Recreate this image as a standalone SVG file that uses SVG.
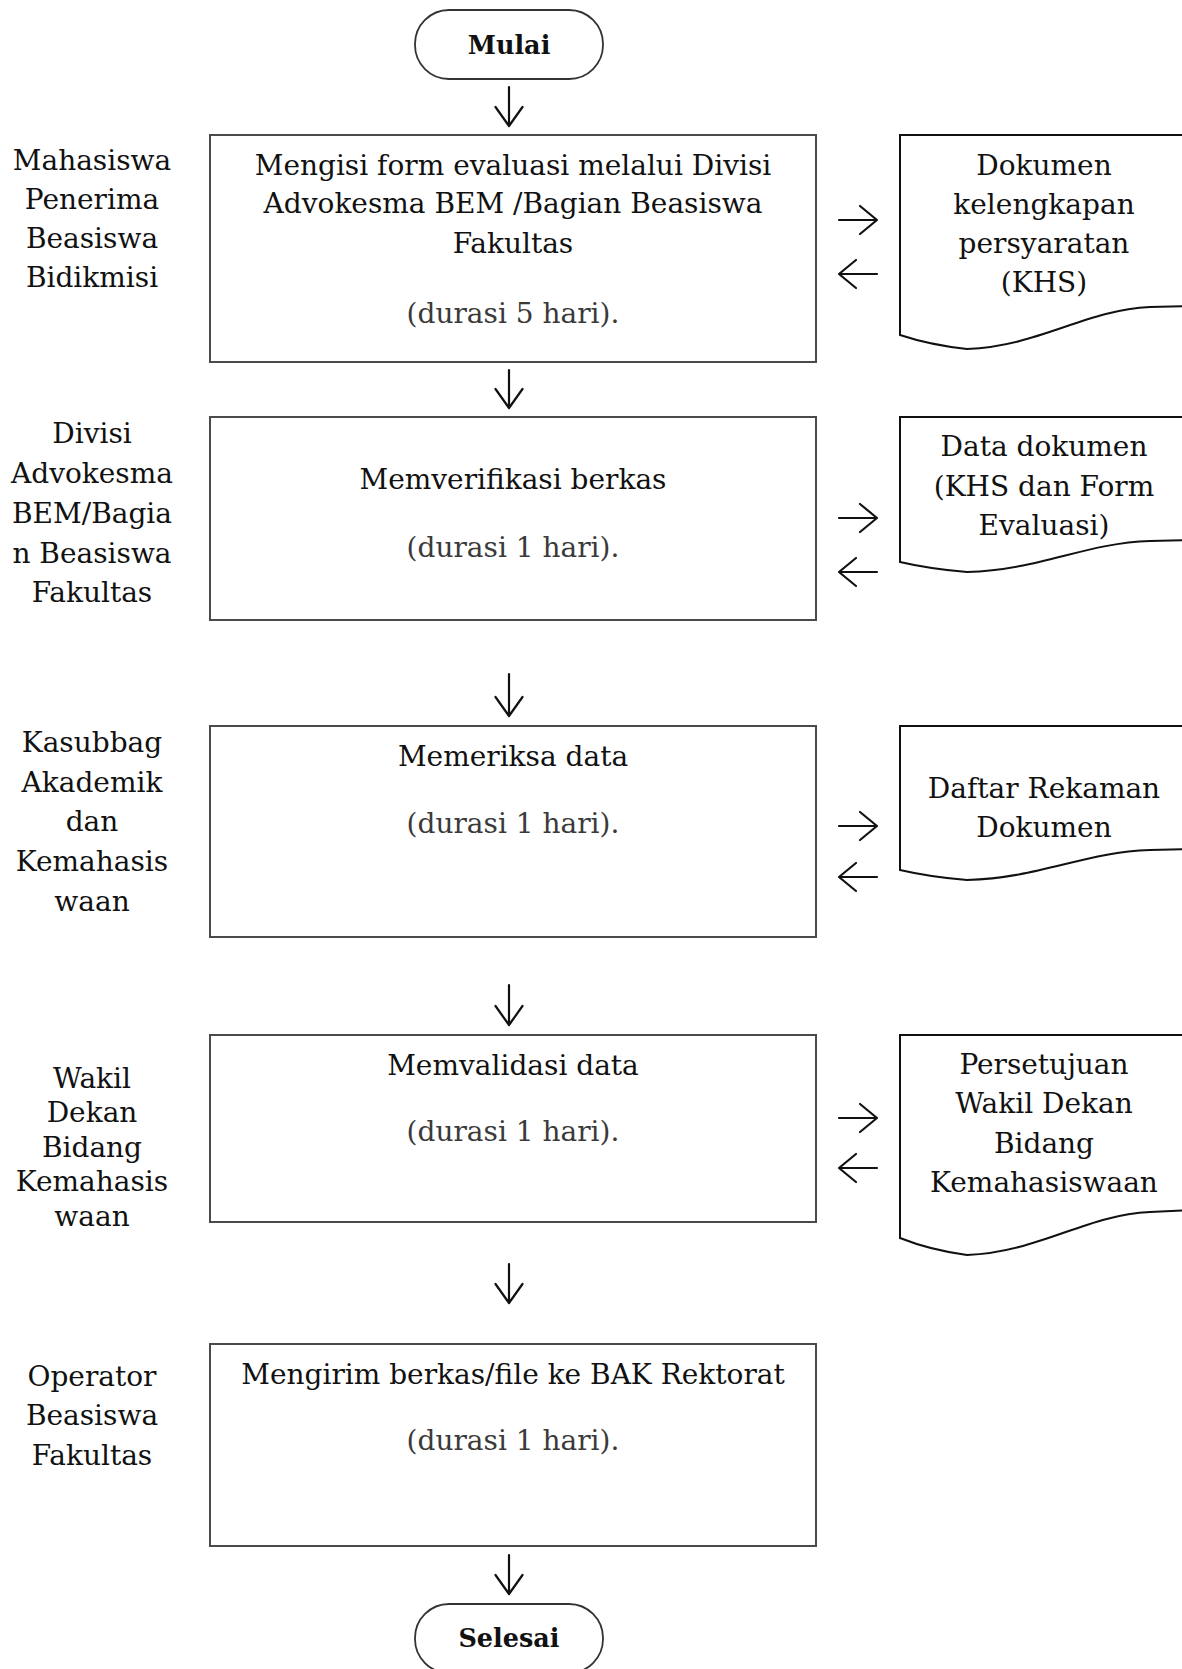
<svg xmlns="http://www.w3.org/2000/svg" width="1182" height="1669" viewBox="0 0 1182 1669">
<style>
.t{font-family:"DejaVu Serif","Liberation Serif",serif;font-size:28px;fill:#111;text-anchor:middle}
.d{fill:#3a3a3a}
.b{font-weight:bold;font-size:25.5px}
.box{fill:#fff;stroke:#4a4a4a;stroke-width:2}
.term{fill:#fff;stroke:#333;stroke-width:1.8}
.doc{fill:#fff;stroke:#111;stroke-width:2}
.arr{fill:none;stroke:#111;stroke-width:2.2;stroke-linecap:round;stroke-linejoin:round}
</style>
<rect width="1182" height="1669" fill="#fff"/>

<g id="lane1">
<text class="t" x="92" y="170">Mahasiswa</text>
<text class="t" x="92" y="209">Penerima</text>
<text class="t" x="92" y="248">Beasiswa</text>
<text class="t" x="92" y="287">Bidikmisi</text>
</g>
<g id="lane2">
<text class="t" x="92" y="443">Divisi</text>
<text class="t" x="92" y="483">Advokesma</text>
<text class="t" x="92" y="523">BEM/Bagia</text>
<text class="t" x="92" y="563">n Beasiswa</text>
<text class="t" x="92" y="602">Fakultas</text>
</g>
<g id="lane3">
<text class="t" x="92" y="752">Kasubbag</text>
<text class="t" x="92" y="792">Akademik</text>
<text class="t" x="92" y="831">dan</text>
<text class="t" x="92" y="871">Kemahasis</text>
<text class="t" x="92" y="911">waan</text>
</g>
<g id="lane4">
<text class="t" x="92" y="1088">Wakil</text>
<text class="t" x="92" y="1122">Dekan</text>
<text class="t" x="92" y="1157">Bidang</text>
<text class="t" x="92" y="1191">Kemahasis</text>
<text class="t" x="92" y="1226">waan</text>
</g>
<g id="lane5">
<text class="t" x="92" y="1386">Operator</text>
<text class="t" x="92" y="1425">Beasiswa</text>
<text class="t" x="92" y="1465">Fakultas</text>
</g>

<g id="start">
<rect class="term" x="415" y="10" width="188" height="69" rx="34" ry="34"/>
<text class="t b" x="509" y="54">Mulai</text>
</g>

<g id="step1">
<rect class="box" x="210" y="135" width="606" height="227"/>
<text class="t" x="513" y="175">Mengisi form evaluasi melalui Divisi</text>
<text class="t" x="513" y="213">Advokesma BEM /Bagian Beasiswa</text>
<text class="t" x="513" y="253">Fakultas</text>
<text class="t d" x="513" y="323">(durasi 5 hari).</text>
</g>

<g id="step2">
<rect class="box" x="210" y="417" width="606" height="203"/>
<text class="t" x="513" y="489">Memverifikasi berkas</text>
<text class="t d" x="513" y="557">(durasi 1 hari).</text>
</g>

<g id="step3">
<rect class="box" x="210" y="726" width="606" height="211"/>
<text class="t" x="513" y="766">Memeriksa data</text>
<text class="t d" x="513" y="833">(durasi 1 hari).</text>
</g>

<g id="step4">
<rect class="box" x="210" y="1035" width="606" height="187"/>
<text class="t" x="513" y="1075">Memvalidasi data</text>
<text class="t d" x="513" y="1141">(durasi 1 hari).</text>
</g>

<g id="step5">
<rect class="box" x="210" y="1344" width="606" height="202"/>
<text class="t" x="513" y="1384">Mengirim berkas/file ke BAK Rektorat</text>
<text class="t d" x="513" y="1450">(durasi 1 hari).</text>
</g>

<g id="end">
<rect class="term" x="415" y="1604" width="188" height="69" rx="34" ry="34"/>
<text class="t b" x="509" y="1647">Selesai</text>
</g>

<g id="doc1">
<path class="doc" d="M1190,135 L900,135 L900,335 Q930,345 967,349 C1040,346 1085,310 1150,307 L1190,306"/>
<text class="t" x="1044" y="175">Dokumen</text>
<text class="t" x="1044" y="214">kelengkapan</text>
<text class="t" x="1044" y="253">persyaratan</text>
<text class="t" x="1044" y="292">(KHS)</text>
</g>

<g id="doc2">
<path class="doc" d="M1190,417 L900,417 L900,562 Q930,569 967,572 C1040,570 1085,543 1150,541 L1190,540"/>
<text class="t" x="1044" y="456">Data dokumen</text>
<text class="t" x="1044" y="496">(KHS dan Form</text>
<text class="t" x="1044" y="535">Evaluasi)</text>
</g>

<g id="doc3">
<path class="doc" d="M1190,726 L900,726 L900,870 Q930,877 967,880 C1040,878 1085,852 1150,850 L1190,849"/>
<text class="t" x="1044" y="798">Daftar Rekaman</text>
<text class="t" x="1044" y="837">Dokumen</text>
</g>

<g id="doc4">
<path class="doc" d="M1190,1035 L900,1035 L900,1238 Q930,1250 967,1255 C1040,1252 1085,1215 1150,1212 L1190,1210"/>
<text class="t" x="1044" y="1074">Persetujuan</text>
<text class="t" x="1044" y="1113">Wakil Dekan</text>
<text class="t" x="1044" y="1153">Bidang</text>
<text class="t" x="1044" y="1192">Kemahasiswaan</text>
</g>

<g id="connectors">
<path class="arr" d="M509,87 V126 M495.5,107 L509,126 L522.5,107"/>
<path class="arr" d="M509,370 V408 M495.5,389 L509,408 L522.5,389"/>
<path class="arr" d="M509,674 V716 M495.5,697 L509,716 L522.5,697"/>
<path class="arr" d="M509,985 V1025 M495.5,1006 L509,1025 L522.5,1006"/>
<path class="arr" d="M509,1264 V1303 M495.5,1284 L509,1303 L522.5,1284"/>
<path class="arr" d="M509,1555 V1594 M495.5,1575 L509,1594 L522.5,1575"/>

<path class="arr" d="M839,220 H877 M860,206 L877,220 L860,234"/>
<path class="arr" d="M877,274 H839 M856,260 L839,274 L856,288"/>
<path class="arr" d="M839,518 H877 M860,504 L877,518 L860,532"/>
<path class="arr" d="M877,572 H839 M856,558 L839,572 L856,586"/>
<path class="arr" d="M839,826 H877 M860,812 L877,826 L860,840"/>
<path class="arr" d="M877,877 H839 M856,863 L839,877 L856,891"/>
<path class="arr" d="M839,1118 H877 M860,1104 L877,1118 L860,1132"/>
<path class="arr" d="M877,1168 H839 M856,1154 L839,1168 L856,1182"/>
</g>
</svg>
